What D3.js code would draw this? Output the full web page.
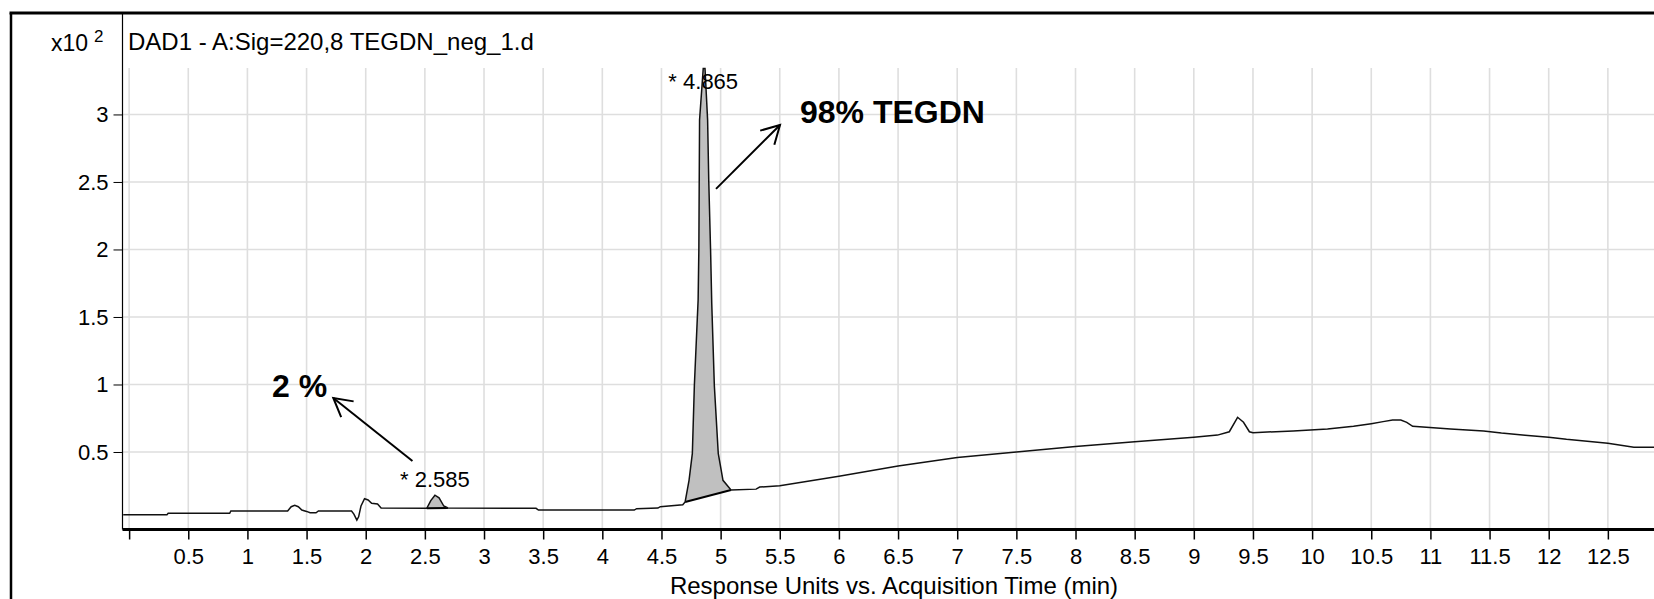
<!DOCTYPE html>
<html>
<head>
<meta charset="utf-8">
<script src="https://cdn.jsdelivr.net/npm/d3@7"></script>
<style>
body{margin:0;background:#fff}
svg{display:block;font-family:"Liberation Sans",Arial,sans-serif}
</style>
</head>
<body>
<svg id="chart" width="1654" height="599"></svg>
<script>
// chromatogram trace, time (min) and response (x10^2)
var times = [-0.05,0.32,0.33,0.85,0.86,1.34,1.37,1.40,1.43,1.46,1.50,1.53,1.58,1.60,1.88,1.90,1.925,1.94,1.96,1.99,2.02,2.05,2.10,2.13,
  2.516,2.55,2.585,2.62,2.66,2.695,3.44,3.46,4.27,4.29,4.47,4.49,4.68,
  4.70,4.733,4.761,4.778,4.81,4.816,4.822,4.853,4.868,4.89,4.90,4.915,4.925,4.947,4.98,5.02,5.088,
  5.30,5.33,5.5,6.0,6.5,7.0,7.5,8.0,8.5,9.0,9.2,9.3,9.37,9.42,9.47,9.5,9.84,10.13,10.35,10.5,10.6,10.68,10.75,10.8,10.85,
  11.17,11.45,11.6,11.8,12.0,12.15,12.5,12.72,12.9];
var values = [0.036,0.036,0.046,0.046,0.063,0.063,0.095,0.105,0.095,0.07,0.06,0.05,0.05,0.063,0.063,0.04,-0.004,0.02,0.10,0.154,0.145,0.12,0.115,0.085,
  0.083,0.14,0.18,0.16,0.10,0.085,0.083,0.07,0.07,0.08,0.085,0.095,0.11,
  0.13,0.29,0.49,0.99,1.63,2.0,2.96,3.34,3.34,2.96,2.5,2.0,1.6,0.99,0.49,0.29,0.218,
  0.225,0.24,0.25,0.32,0.396,0.46,0.50,0.54,0.575,0.61,0.625,0.65,0.757,0.72,0.65,0.643,0.656,0.67,0.69,0.71,0.725,0.737,0.737,0.72,0.69,
  0.67,0.656,0.64,0.624,0.61,0.594,0.565,0.535,0.535];

var xTicks = [0,0.5,1,1.5,2,2.5,3,3.5,4,4.5,5,5.5,6,6.5,7,7.5,8,8.5,9,9.5,10,10.5,11,11.5,12,12.5];
var yTicks = [0.5,1,1.5,2,2.5,3];

var peakLabels = ['2.585','4.865'];
var peakStart = [2.516,4.70];
var peakEnd = [2.695,5.088];

var noteText = ['2 %','98% TEGDN'];
var noteAt = [[1.208,0.91],[5.671,2.94]];
var arrowFrom = [[2.395,0.433],[4.961,2.449]];
var arrowTo = [[1.726,0.90],[5.502,2.922]];

var W=1654, H=599, plotL=122.5, plotT=68, axisY=529.5;
var svg = d3.select('#chart');
var x = d3.scaleLinear().domain([-0.056,12.89]).range([plotL,W]);
var y = d3.scaleLinear().domain([-0.074,3.344]).range([axisY,plotT]);
var pts = times.map(function(t,i){return [t,values[i]];});

svg.append('defs').append('clipPath').attr('id','plot')
  .append('rect').attr('x',plotL).attr('y',plotT-2).attr('width',W-plotL).attr('height',axisY-plotT+2);
var m = svg.select('defs').append('marker').attr('id','head')
  .attr('markerUnits','userSpaceOnUse').attr('viewBox','-25 -25 50 50')
  .attr('markerWidth',50).attr('markerHeight',50).attr('refX',0).attr('refY',0).attr('orient','auto');
m.append('path').attr('d','M-18,-10L0,0L-18,10').attr('fill','none').attr('stroke','#000').attr('stroke-width',2);

// grid
svg.append('g').selectAll('line').data(xTicks).enter().append('line')
  .attr('x1',d=>x(d)).attr('x2',d=>x(d)).attr('y1',plotT).attr('y2',axisY)
  .attr('stroke','#dedede').attr('stroke-width',1.6);
svg.append('g').selectAll('line').data(yTicks).enter().append('line')
  .attr('x1',plotL).attr('x2',W).attr('y1',d=>y(d)).attr('y2',d=>y(d))
  .attr('stroke','#dedede').attr('stroke-width',1.6);

// frame
svg.append('line').attr('x1',9.5).attr('x2',W).attr('y1',13).attr('y2',13).attr('stroke','#000').attr('stroke-width',3);
svg.append('line').attr('x1',11).attr('x2',11).attr('y1',13).attr('y2',H).attr('stroke','#000').attr('stroke-width',2.5);
svg.append('line').attr('x1',plotL).attr('x2',plotL).attr('y1',13).attr('y2',axisY).attr('stroke','#000').attr('stroke-width',1.2);

// integrated peaks
var g = svg.append('g').attr('clip-path','url(#plot)');
peakLabels.forEach(function(lab,i){
  var seg = pts.filter(p=>p[0]>=peakStart[i] && p[0]<=peakEnd[i]);
  var a = seg[0], b = seg[seg.length-1];
  var poly = seg.concat([[a[0],a[1]]]);
  g.append('path').attr('d',d3.line().x(p=>x(p[0])).y(p=>y(p[1]))(poly))
    .attr('fill','#c0c0c0').attr('stroke','none');
  g.append('line').attr('x1',x(a[0])).attr('y1',y(a[1])).attr('x2',x(b[0])).attr('y2',y(b[1]))
    .attr('stroke','#000').attr('stroke-width',2);
  var apex = seg.reduce((p,q)=>q[1]>p[1]?q:p);
  svg.append('text').text('* '+lab).attr('x',x(apex[0])).attr('y',Math.max(y(apex[1])-8,plotT+21))
    .attr('text-anchor','middle').style('font-size','22px');
});

// trace
g.append('path').datum(pts)
  .attr('d',d3.line().x(p=>x(p[0])).y(p=>y(p[1])))
  .attr('fill','none').attr('stroke','#111').attr('stroke-width',1.5);

// axes
var xa = svg.append('g').attr('transform','translate(0,'+axisY+')')
  .call(d3.axisBottom(x).tickValues(xTicks).tickSize(10).tickPadding(9).tickFormat(d=>d===0?'':String(d)));
xa.select('.domain').remove();
xa.selectAll('line').attr('stroke','#000').attr('stroke-width',1.5);
xa.selectAll('text').style('font-size','22px').attr('fill','#000');
svg.append('line').attr('x1',plotL).attr('x2',W).attr('y1',axisY).attr('y2',axisY).attr('stroke','#000').attr('stroke-width',2.8);

var ya = svg.append('g').attr('transform','translate('+plotL+',0)')
  .call(d3.axisLeft(y).tickValues(yTicks).tickSize(9).tickPadding(5).tickFormat(d=>String(d)));
ya.select('.domain').remove();
ya.selectAll('line').attr('stroke','#000');
ya.selectAll('text').style('font-size','22px').attr('fill','#000');

// texts
svg.append('text').text('x10').attr('x',88).attr('y',51).attr('text-anchor','end').style('font-size','23px');
svg.append('text').text('2').attr('x',94).attr('y',42).style('font-size','17px');
svg.append('text').text('DAD1 - A:Sig=220,8 TEGDN_neg_1.d').attr('x',128).attr('y',50).style('font-size','24px');
svg.append('text').text('Response Units vs. Acquisition Time (min)').attr('x',894).attr('y',594)
  .attr('text-anchor','middle').style('font-size','24px');

// annotations
noteText.forEach(function(t,i){
  svg.append('text').text(t).attr('x',x(noteAt[i][0])).attr('y',y(noteAt[i][1]))
    .style('font-size','32px').style('font-weight','bold');
  svg.append('line').attr('x1',x(arrowFrom[i][0])).attr('y1',y(arrowFrom[i][1]))
    .attr('x2',x(arrowTo[i][0])).attr('y2',y(arrowTo[i][1]))
    .attr('stroke','#000').attr('stroke-width',2).attr('marker-end','url(#head)');
});
</script>
</body>
</html>
